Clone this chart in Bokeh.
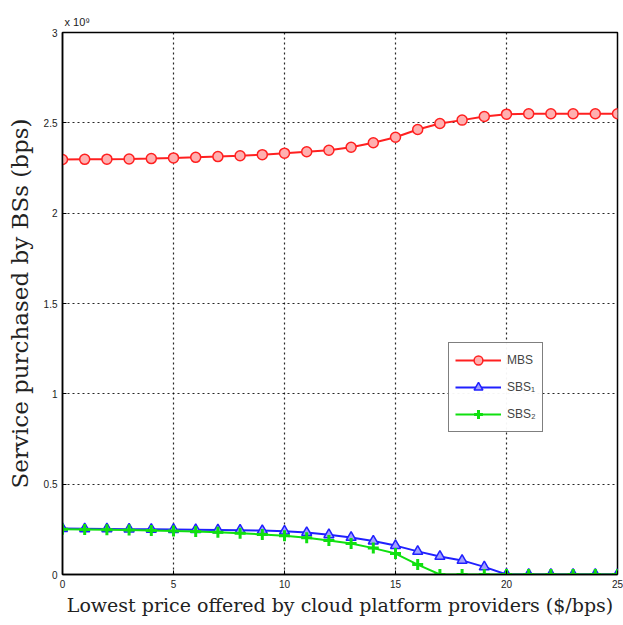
from bokeh.plotting import figure
from bokeh.models import Range1d, Legend, LegendItem, FixedTicker
from bokeh.embed import file_html
from bokeh.resources import INLINE

price = list(range(0, 26))
# values in units of 1e9 bps
mbs = [2.297, 2.298, 2.299, 2.300, 2.302, 2.306, 2.309, 2.313, 2.318, 2.324,
       2.332, 2.340, 2.348, 2.365, 2.390, 2.420, 2.463, 2.496, 2.515, 2.535,
       2.548, 2.550, 2.550, 2.550, 2.550, 2.550]
sbs1 = [0.254, 0.253, 0.252, 0.251, 0.250, 0.249, 0.248, 0.247, 0.245, 0.243,
        0.240, 0.232, 0.220, 0.205, 0.185, 0.160, 0.128, 0.100, 0.078, 0.042,
        0.0, 0.0, 0.0, 0.0, 0.0, 0.0]
sbs2 = [0.250, 0.249, 0.248, 0.246, 0.244, 0.241, 0.238, 0.234, 0.229, 0.222,
        0.214, 0.203, 0.188, 0.172, 0.146, 0.116, 0.055, 0.0, 0.0, 0.0,
        0.0, 0.0, 0.0, 0.0, 0.0, 0.0]
x_ticks = [0, 5, 10, 15, 20, 25]
y_ticks = [0, 0.5, 1, 1.5, 2, 2.5, 3]
series_names = ["MBS", "SBS\u2081", "SBS\u2082"]

p = figure(width=623, height=622, output_backend="svg", toolbar_location=None,
           x_range=Range1d(0, 25), y_range=Range1d(0, 3),
           min_border_left=62, min_border_right=6, min_border_top=32, min_border_bottom=48,
           title="x 10\u2079")

p.title.text_font = "Liberation Sans"
p.title.text_font_size = "11px"
p.title.text_font_style = "normal"
p.title.text_color = "#222222"
p.title.align = "left"
p.title.standoff = 9
p.title.offset = 2

p.outline_line_color = "black"
p.outline_line_width = 1.5

for ax, ticks in ((p.xaxis, x_ticks), (p.yaxis, y_ticks)):
    ax.ticker = FixedTicker(ticks=ticks)
    ax.major_label_text_font = "Liberation Sans"
    ax.major_label_text_font_size = "10px"
    ax.major_label_text_color = "#222222"
    ax.major_tick_in = 4
    ax.major_tick_out = 0
    ax.minor_tick_line_color = None
    ax.axis_line_width = 1.5
    ax.axis_label_text_font = "DejaVu Serif"
    ax.axis_label_text_font_style = "normal"
    ax.axis_label_text_color = "#222222"

p.xaxis.axis_label = "Lowest price offered by cloud platform providers ($/bps)"
p.yaxis.axis_label = "Service purchased by BSs (bps)"
p.xaxis.axis_label_text_font_size = "19px"
p.yaxis.axis_label_text_font_size = "23px"
p.xaxis.axis_label_standoff = 3
p.yaxis.axis_label_standoff = 8
p.xaxis.major_label_standoff = 5
p.yaxis.major_label_standoff = 5

for g in (p.xgrid, p.ygrid):
    g.grid_line_color = "black"
    g.grid_line_dash = "2 3"
    g.grid_line_width = 1.2
    g.grid_line_alpha = 0.85
p.xgrid.ticker = FixedTicker(ticks=x_ticks)
p.ygrid.ticker = FixedTicker(ticks=y_ticks)

r_mbs_l = p.line(price, mbs, line_color="#ff2020", line_width=2)
r_mbs_m = p.scatter(price, mbs, marker="circle", size=10, line_color="#ff2020",
                    fill_color="#ffb0b0", line_width=1.5)
r_s1_l = p.line(price, sbs1, line_color="#2020ff", line_width=2)
r_s1_m = p.scatter(price, sbs1, marker="triangle", size=10, line_color="#2020ff",
                   fill_color="#a0a0ff", line_width=1.5)
r_s2_l = p.line(price, sbs2, line_color="#10e010", line_width=2)
r_s2_m = p.scatter(price, sbs2, marker="cross", size=11, line_color="#10e010",
                   line_width=3)

legend = Legend(items=[
    LegendItem(label=series_names[0], renderers=[r_mbs_l, r_mbs_m]),
    LegendItem(label=series_names[1], renderers=[r_s1_l, r_s1_m]),
    LegendItem(label=series_names[2], renderers=[r_s2_l, r_s2_m]),
], location=(386, 142))
legend.border_line_color = "black"
legend.border_line_width = 1.5
legend.label_text_font = "Liberation Sans"
legend.label_text_font_size = "12px"
legend.glyph_width = 46
legend.glyph_height = 22
legend.label_height = 22
legend.spacing = 5
legend.padding = 6
legend.margin = 0
legend.label_standoff = 6
p.add_layout(legend)

open("out.html", "w").write(file_html(p, INLINE))
